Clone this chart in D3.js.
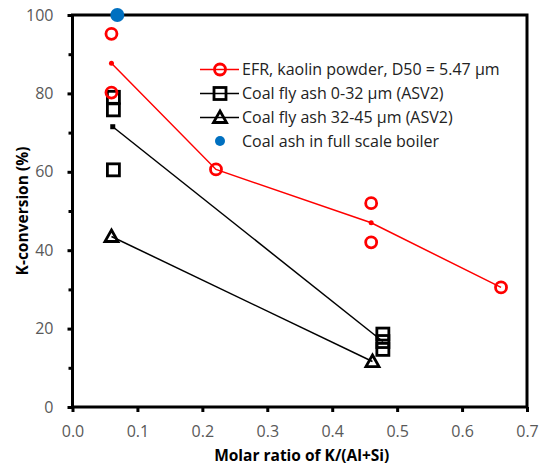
<!DOCTYPE html>
<html>
<head>
<meta charset="utf-8">
<script src="https://cdn.jsdelivr.net/npm/d3@7"></script>
<style>
  body { margin: 0; background: #fff; }
  text { font-family: "Open Sans", "Noto Sans", sans-serif; }
</style>
</head>
<body>
<div id="chart"></div>
<script>
// EFR, kaolin powder
const efrX = [0.06, 0.06, 0.221, 0.46, 0.46, 0.66];
const efrY = [95.2, 80.2, 60.6, 52, 42, 30.5];
const efrMeanX = [0.06, 0.221, 0.46, 0.66];
const efrMeanY = [87.7, 60.6, 47, 30.5];

// Coal fly ash 0-32 um
const ash032X = [0.063, 0.063, 0.063, 0.478, 0.478, 0.478];
const ash032Y = [79, 75.8, 60.5, 18.6, 16.7, 14.7];
const ash032MeanX = [0.062, 0.478];
const ash032MeanY = [71.5, 16.7];

// Coal fly ash 32-45 um
const ash3245X = [0.06, 0.462];
const ash3245Y = [43.5, 11.6];

// Full scale boiler
const boilerX = [0.069];
const boilerY = [100];

const xTicks = [0, 0.1, 0.2, 0.3, 0.4, 0.5, 0.6, 0.7];
const yTicks = [0, 20, 40, 60, 80, 100];
const yMinorTicks = [10, 30, 50, 70, 90];

const legendLabels = [
  "EFR, kaolin powder, D50 = 5.47 \u00b5m",
  "Coal fly ash 0-32 \u00b5m (ASV2)",
  "Coal fly ash 32-45 \u00b5m (ASV2)",
  "Coal ash in full scale boiler"
];

const width = 539, height = 469;
const margin = { top: 15, right: 12, bottom: 62, left: 72.5 };

const x = d3.scaleLinear().domain([0, 0.7]).range([margin.left, width - margin.right]);
const y = d3.scaleLinear().domain([0, 100]).range([height - margin.bottom, margin.top]);

const red = "#ff0000", blue = "#0070c0", grey = "#595959";

const svg = d3.select("#chart").append("svg")
  .attr("width", width)
  .attr("height", height);

// Frame
svg.append("rect")
  .attr("x", x(0)).attr("y", y(100))
  .attr("width", x(0.7) - x(0)).attr("height", y(0) - y(100))
  .attr("fill", "none").attr("stroke", "#000").attr("stroke-width", 3);

// x axis
const xAxis = svg.append("g")
  .attr("transform", `translate(0,${y(0)})`)
  .call(d3.axisBottom(x).tickValues(xTicks).tickFormat(d3.format(".1f")).tickSize(5).tickPadding(14));
xAxis.select(".domain").remove();
xAxis.selectAll("line").attr("stroke-width", 3);
xAxis.selectAll("text").attr("font-size", 16).attr("fill", grey);

// y axis
const yAxis = svg.append("g")
  .attr("transform", `translate(${x(0)},0)`)
  .call(d3.axisLeft(y).tickValues(yTicks).tickSize(5).tickPadding(14));
yAxis.select(".domain").remove();
yAxis.selectAll("line").attr("stroke-width", 3);
yAxis.selectAll("text").attr("font-size", 16).attr("fill", grey);

svg.append("g")
  .attr("transform", `translate(${x(0)},0)`)
  .call(d3.axisLeft(y).tickValues(yMinorTicks).tickSize(4).tickFormat(""))
  .call(g => g.select(".domain").remove())
  .selectAll("line").attr("stroke-width", 3);

// axis titles
svg.append("text")
  .attr("x", (x(0) + x(0.7)) / 2 + 2).attr("y", 461)
  .attr("text-anchor", "middle")
  .attr("font-size", 15.5).attr("font-weight", "bold")
  .text("Molar ratio of K/(Al+Si)");

svg.append("text")
  .attr("transform", `translate(28,${(y(0) + y(100)) / 2}) rotate(-90)`)
  .attr("text-anchor", "middle")
  .attr("font-size", 15.5).attr("font-weight", "bold")
  .text("K-conversion (%)");

const line = d3.line().x(d => x(d[0])).y(d => y(d[1]));

// mean lines
svg.append("path")
  .attr("d", line(d3.zip(efrMeanX, efrMeanY)))
  .attr("fill", "none").attr("stroke", red).attr("stroke-width", 1.5);
svg.append("path")
  .attr("d", line(d3.zip(ash032MeanX, ash032MeanY)))
  .attr("fill", "none").attr("stroke", "#000").attr("stroke-width", 1.5);
svg.append("path")
  .attr("d", line(d3.zip(ash3245X, ash3245Y)))
  .attr("fill", "none").attr("stroke", "#000").attr("stroke-width", 1.5);

// small mean markers
svg.append("g").selectAll("circle")
  .data(d3.zip(efrMeanX, efrMeanY).filter((d, i) => i === 0 || i === 2))
  .join("circle")
  .attr("cx", d => x(d[0])).attr("cy", d => y(d[1])).attr("r", 2.5).attr("fill", red);
svg.append("g").selectAll("rect")
  .data(d3.zip(ash032MeanX, ash032MeanY).slice(0, 1))
  .join("rect")
  .attr("x", d => x(d[0]) - 2.5).attr("y", d => y(d[1]) - 2.5)
  .attr("width", 5).attr("height", 5).attr("fill", "#000");

// marker shapes
const drawCircle = (g, cx, cy) => g.append("circle")
  .attr("cx", cx).attr("cy", cy).attr("r", 5.5)
  .attr("fill", "none").attr("stroke", red).attr("stroke-width", 2.8);
const drawSquare = (g, cx, cy) => g.append("rect")
  .attr("x", cx - 6).attr("y", cy - 6).attr("width", 12).attr("height", 12)
  .attr("fill", "none").attr("stroke", "#000").attr("stroke-width", 2.8);
const drawTriangle = (g, cx, cy) => g.append("path")
  .attr("d", `M${cx},${cy - 6.5}L${cx + 6.5},${cy + 5}L${cx - 6.5},${cy + 5}Z`)
  .attr("fill", "none").attr("stroke", "#000").attr("stroke-width", 2.8).attr("stroke-linejoin", "miter");
const drawDot = (g, cx, cy) => g.append("circle")
  .attr("cx", cx).attr("cy", cy).attr("r", 7).attr("fill", blue);

const marks = svg.append("g");
d3.zip(ash032X, ash032Y).forEach(d => drawSquare(marks, x(d[0]), y(d[1])));
d3.zip(ash3245X, ash3245Y).forEach(d => drawTriangle(marks, x(d[0]), y(d[1])));
d3.zip(efrX, efrY).forEach(d => drawCircle(marks, x(d[0]), y(d[1])));
d3.zip(boilerX, boilerY).forEach(d => drawDot(marks, x(d[0]), y(d[1])));

// legend
const legend = svg.append("g");
const legendY = [69.5, 93.5, 117.5, 141];
const drawers = [drawCircle, drawSquare, drawTriangle, drawDot];
const lineColors = [red, "#000", "#000", null];
legendLabels.forEach((label, i) => {
  const ly = legendY[i];
  if (lineColors[i]) {
    legend.append("line")
      .attr("x1", 200).attr("x2", 239).attr("y1", ly).attr("y2", ly)
      .attr("stroke", lineColors[i]).attr("stroke-width", 1.5);
  }
  if (i === 3) {
    legend.append("circle").attr("cx", 220).attr("cy", ly).attr("r", 5).attr("fill", blue);
  } else {
    drawers[i](legend, 220, ly);
  }
  legend.append("text")
    .attr("x", 242).attr("y", ly).attr("dy", "0.35em")
    .attr("font-size", 16).attr("fill", "#222")
    .text(label);
});
</script>
</body>
</html>
